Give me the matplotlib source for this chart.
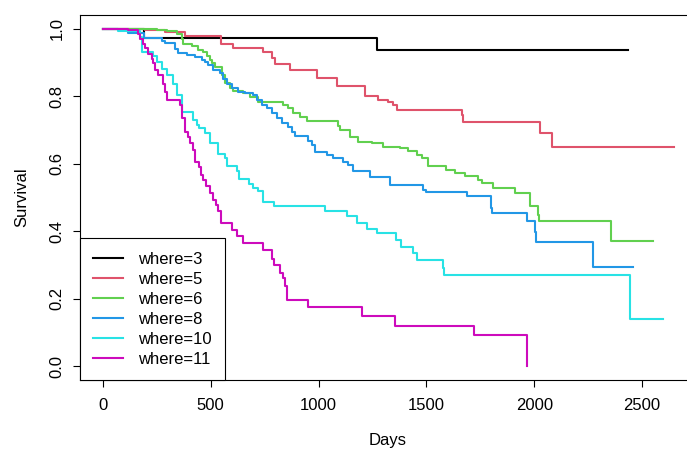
"""Kaplan-Meier survival curves by `where` group (R base-graphics look)."""
import matplotlib
matplotlib.use("Agg")
import matplotlib.pyplot as plt

plt.rcParams["font.family"] = ["Liberation Sans", "DejaVu Sans"]

# event times (days) and survival right after each step; last entry = end of follow-up
T3 = [0, 190, 1271, 2435]
S3 = [1.0, 0.972, 0.935, 0.935]

T5 = [0, 195, 288, 380, 547, 603, 742, 784, 798, 867, 993, 1085, 1215, 1275,
      1322, 1345, 1364, 1665, 1670, 2027, 2083, 2648]
S5 = [1.0, 0.996, 0.990, 0.979, 0.953, 0.942, 0.930, 0.912, 0.894, 0.876,
      0.854, 0.830, 0.800, 0.788, 0.782, 0.773, 0.758, 0.744, 0.724, 0.692,
      0.649, 0.649]

T6 = [0, 250, 297, 343, 366, 371, 413, 441, 464, 482, 496, 505, 519, 552, 566,
      589, 603, 649, 682, 719, 835, 858, 881, 913, 946, 1090, 1099, 1145, 1183,
      1248, 1298, 1377, 1415, 1456, 1480, 1507, 1591, 1633, 1679, 1739, 1758,
      1809, 1911, 1981, 2018, 2022, 2356, 2551]
S6 = [1.0, 0.996, 0.992, 0.984, 0.970, 0.955, 0.947, 0.937, 0.930, 0.920,
      0.908, 0.898, 0.886, 0.862, 0.838, 0.823, 0.814, 0.808, 0.798, 0.783,
      0.773, 0.764, 0.749, 0.739, 0.726, 0.713, 0.700, 0.680, 0.665, 0.660,
      0.650, 0.646, 0.638, 0.626, 0.616, 0.592, 0.582, 0.572, 0.565, 0.552,
      0.543, 0.528, 0.513, 0.474, 0.449, 0.430, 0.371, 0.371]

T8 = [0, 70, 116, 190, 274, 288, 334, 348, 390, 427, 459, 473, 487, 510, 543,
      557, 575, 598, 626, 659, 696, 714, 737, 761, 784, 807, 830, 858, 877, 891,
      951, 969, 983, 1039, 1067, 1113, 1136, 1160, 1238, 1331, 1484, 1498, 1688,
      1800, 1804, 1967, 2004, 2009, 2273, 2458]
S8 = [1.0, 0.996, 0.986, 0.973, 0.962, 0.956, 0.938, 0.929, 0.923, 0.916,
      0.908, 0.901, 0.891, 0.876, 0.867, 0.852, 0.837, 0.823, 0.812, 0.808,
      0.803, 0.788, 0.773, 0.764, 0.749, 0.734, 0.719, 0.709, 0.695, 0.682,
      0.668, 0.655, 0.636, 0.626, 0.616, 0.606, 0.597, 0.577, 0.562, 0.538,
      0.523, 0.516, 0.503, 0.469, 0.454, 0.430, 0.397, 0.368, 0.294, 0.294]

T10 = [0, 70, 172, 181, 232, 250, 274, 297, 325, 343, 366, 417, 436, 445, 473,
       496, 533, 566, 575, 622, 631, 677, 696, 719, 742, 793, 1030, 1132, 1178,
       1224, 1271, 1358, 1382, 1438, 1456, 1577, 1582, 2444, 2597]
S10 = [1.0, 0.994, 0.974, 0.930, 0.920, 0.901, 0.881, 0.862, 0.837, 0.803,
       0.754, 0.729, 0.714, 0.705, 0.690, 0.660, 0.630, 0.616, 0.592, 0.577,
       0.554, 0.540, 0.528, 0.518, 0.488, 0.475, 0.459, 0.444, 0.425, 0.407,
       0.395, 0.373, 0.353, 0.336, 0.315, 0.292, 0.270, 0.140, 0.140]

T11 = [0, 116, 162, 172, 186, 195, 209, 227, 232, 241, 255, 278, 288, 297, 357,
       366, 380, 394, 404, 417, 427, 445, 455, 464, 478, 496, 510, 524, 533, 547,
       598, 621, 649, 742, 784, 793, 821, 835, 844, 853, 951, 1201, 1354, 1720,
       1966, 1966]
S11 = [1.0, 0.996, 0.984, 0.970, 0.955, 0.941, 0.926, 0.911, 0.897, 0.876,
       0.862, 0.837, 0.812, 0.788, 0.773, 0.734, 0.695, 0.680, 0.660, 0.641,
       0.606, 0.590, 0.567, 0.552, 0.533, 0.513, 0.493, 0.479, 0.459, 0.425,
       0.405, 0.385, 0.364, 0.346, 0.317, 0.299, 0.278, 0.263, 0.238, 0.196,
       0.177, 0.150, 0.120, 0.093, 0.0, 0.0]

GROUPS = ["where=3", "where=5", "where=6", "where=8", "where=10", "where=11"]
COLORS = ["#000000", "#DF536B", "#61D04F", "#2297E6", "#28E2E5", "#CD0BBC"]

XTICKS = [0, 500, 1000, 1500, 2000, 2500]
YTICKS = [0.0, 0.2, 0.4, 0.6, 0.8, 1.0]


def main():
    curves = [(T3, S3), (T5, S5), (T6, S6), (T8, S8), (T10, S10), (T11, S11)]

    fig = plt.figure(figsize=(6.87, 4.5), dpi=100)
    # the right edge of the plot box sits just outside the image, as in the source
    ax = fig.add_axes([80 / 687, 70 / 450, 616 / 687, 365 / 450])

    for (t, s), lab, col in zip(curves, GROUPS, COLORS):
        ax.step(t, s, where="post", color=col, lw=1.5, label=lab)

    ax.set_xlim(-106, 2750)
    ax.set_ylim(-0.04, 1.04)
    ax.set_xticks(XTICKS)
    ax.set_yticks(YTICKS)
    ax.set_yticklabels([f"{v:.1f}" for v in YTICKS], rotation=90, va="center")
    ax.tick_params(direction="out", length=5, width=0.8, labelsize=12,
                   colors="black")
    ax.tick_params(axis="x", pad=8)
    ax.tick_params(axis="y", pad=6)
    for sp in ax.spines.values():
        sp.set_color("black")
        sp.set_linewidth(0.8)

    ax.set_xlabel("Days", fontsize=12, labelpad=14)
    ax.set_ylabel("Survival", fontsize=12, labelpad=15)

    leg = ax.legend(loc="lower left", borderaxespad=0, fontsize=12,
                    fancybox=False, framealpha=1, edgecolor="black",
                    handlelength=1.75, handletextpad=0.95, labelspacing=0.3,
                    borderpad=0.8)
    leg.get_frame().set_linewidth(0.8)

    fig.savefig("out.png", dpi=100)
    plt.close(fig)


if __name__ == "__main__":
    main()
